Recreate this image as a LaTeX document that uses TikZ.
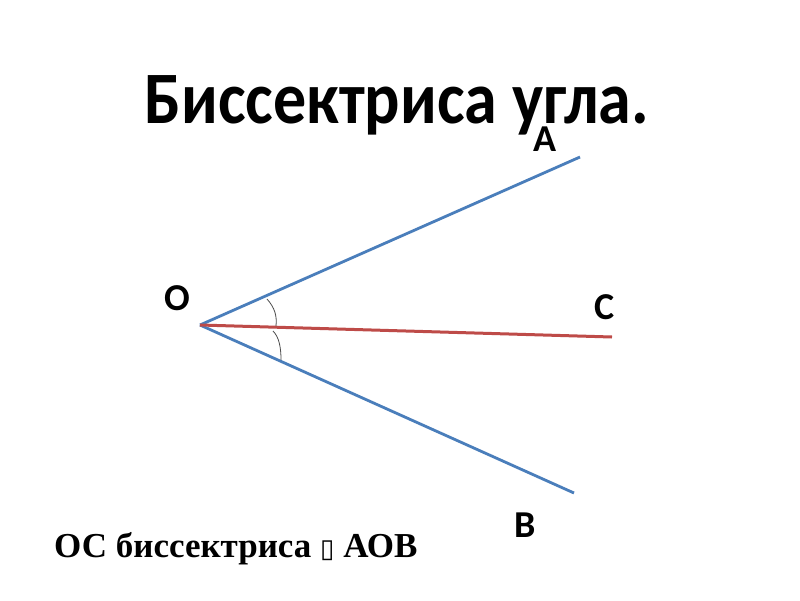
\documentclass[tikz,border=0pt]{standalone}
\usepackage{fontspec}
\setmainfont{Carlito}
\newfontfamily\serifb{Liberation Serif}
\newfontfamily\symb{DejaVu Sans}
\definecolor{rayblue}{HTML}{4A7EBB}
\definecolor{rayred}{HTML}{BE4B48}
\begin{document}
\begin{tikzpicture}[x=1pt,y=-1pt,
  ray/.style={line width=2.8pt,rayblue},
  bis/.style={line width=3pt,rayred},
  anglearc/.style={line width=0.8pt,black!70},
  ptlabel/.style={font=\fontsize{38}{42}\selectfont\bfseries,inner sep=0pt,anchor=base}]
\useasboundingbox (0,0) rectangle (800,600);
\fill[white] (0,0) rectangle (800,600);
\node[font=\fontsize{66}{72}\selectfont\bfseries,anchor=base,inner sep=0pt,yscale=1.12,transform shape] (title) at (397,123) {Биссектриса угла.};
\coordinate (O) at (200,325);
\coordinate (A) at (580,157);
\coordinate (C) at (612,337);
\coordinate (B) at (574,493);
\draw[ray] (O) -- (A);
\draw[ray] (O) -- (B);
\draw[bis] (O) -- (C);
\coordinate (u1) at (267,299);
\coordinate (u2) at (276,326);
\coordinate (l1) at (273,331);
\coordinate (l2) at (281,360);
\draw[anglearc] (u1) .. controls (275,308) and (277,316) .. (u2);
\draw[anglearc] (l1) .. controls (279,337) and (281,347) .. (l2);
\node[ptlabel] (lA) at (545,151) {A};
\node[ptlabel] (lO) at (177,310) {O};
\node[ptlabel] (lC) at (605,319) {C};
\node[ptlabel] (lB) at (525,537) {B};
\node[font=\fontsize{35}{40}\selectfont\serifb\bfseries,anchor=base west,inner sep=0pt] (caption) at (54,557) {ОС биссектриса {\symb\fontsize{26}{30}\selectfont ▯} АОВ};
\end{tikzpicture}
\end{document}
